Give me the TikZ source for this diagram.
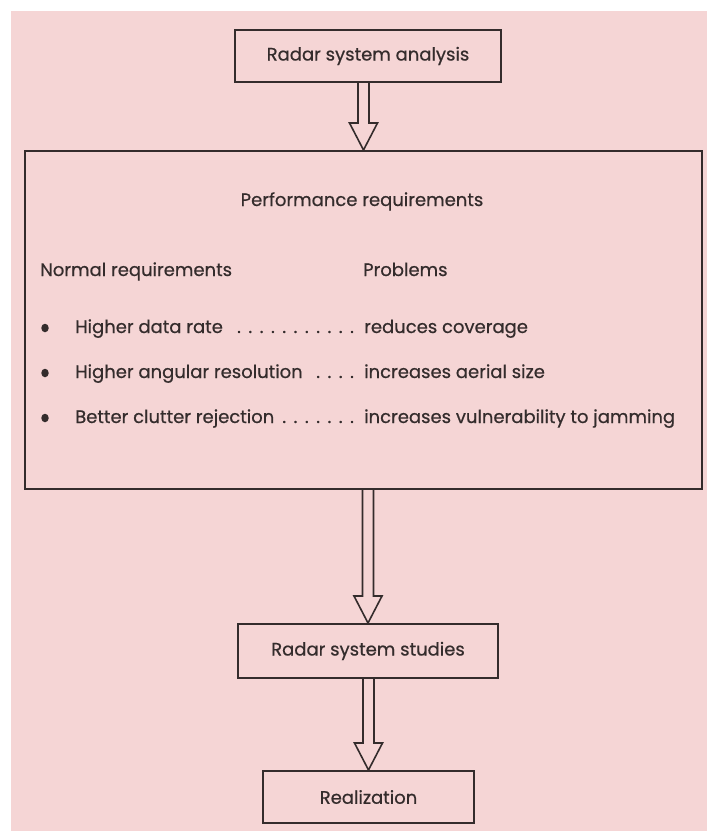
\documentclass[tikz,border=0pt]{standalone}
\usepackage{fontspec}
\setmainfont{Poppins}[FakeBold=0.6]
\usetikzlibrary{calc,shapes.geometric}
\definecolor{bgpink}{RGB}{245,213,213}
\definecolor{ink}{RGB}{52,44,44}
\newcommand\leaderdots{\leaders\hbox to 11.3pt{\hss.\hss}\hfill}
\newcommand\blockarrow[2]{%
  \draw[arrowstyle] let \p1=(#1.south), \p2=(#2.north) in
    (\x2-5.5pt,\y1) -- (\x2-5.5pt,\y2+27pt) -- (\x2-14pt,\y2+27pt) -- (\x2,\y2)
    -- (\x2+14pt,\y2+27pt) -- (\x2+5.5pt,\y2+27pt) -- (\x2+5.5pt,\y1);}
\begin{document}
\begin{tikzpicture}[x=1pt,y=-1pt,
  font=\fontsize{18}{21}\selectfont,
  box/.style={draw=ink, line width=2pt, inner sep=0pt, text=ink},
  arrowstyle/.style={draw=ink, line width=1.6pt, line join=miter},
  lbl/.style={inner sep=0pt, anchor=base west, text=ink},
  bullet/.style={ellipse, fill=ink, inner sep=0pt, minimum width=7.5pt, minimum height=8.5pt}]
\fill[white] (0,0) rectangle (707,831);
\useasboundingbox (0,0) rectangle (707,831);
\fill[bgpink] (11,11) rectangle (707,831);

\node[box, minimum width=266pt, minimum height=52pt] (analysis) at (368,56) {Radar system analysis};
\node[box, minimum width=677pt, minimum height=338pt] (perf) at (363.5,320) {};
\node[box, minimum width=260pt, minimum height=54pt] (studies) at (368,651) {Radar system studies};
\node[box, minimum width=211pt, minimum height=52pt] (real) at (368.5,797) {Realization};

\node[inner sep=0pt, anchor=base, text=ink] (title) at (362,206) {Performance requirements};
\node[lbl] (normal) at (40,276) {Normal requirements};
\node[lbl] (problems) at (363,276) {Problems};

\node[bullet] (b1) at (45,328) {};
\node[bullet] (b2) at (45,373) {};
\node[bullet] (b3) at (45,418) {};
\node[lbl] (r1) at (75,333) {\makebox[285pt][l]{Higher data rate\leaderdots}};
\node[lbl] (r2) at (75,378) {\makebox[285pt][l]{Higher angular resolution\leaderdots}};
\node[lbl] (r3) at (75,423) {\makebox[285pt][l]{Better clutter rejection\leaderdots}};
\node[lbl] (p1) at (364,333) {reduces coverage};
\node[lbl] (p2) at (364,378) {increases aerial size};
\node[lbl] (p3) at (364,423) {increases vulnerability to jamming};

\blockarrow{analysis}{perf}
\blockarrow{perf}{studies}
\blockarrow{studies}{real}
\end{tikzpicture}
\end{document}
